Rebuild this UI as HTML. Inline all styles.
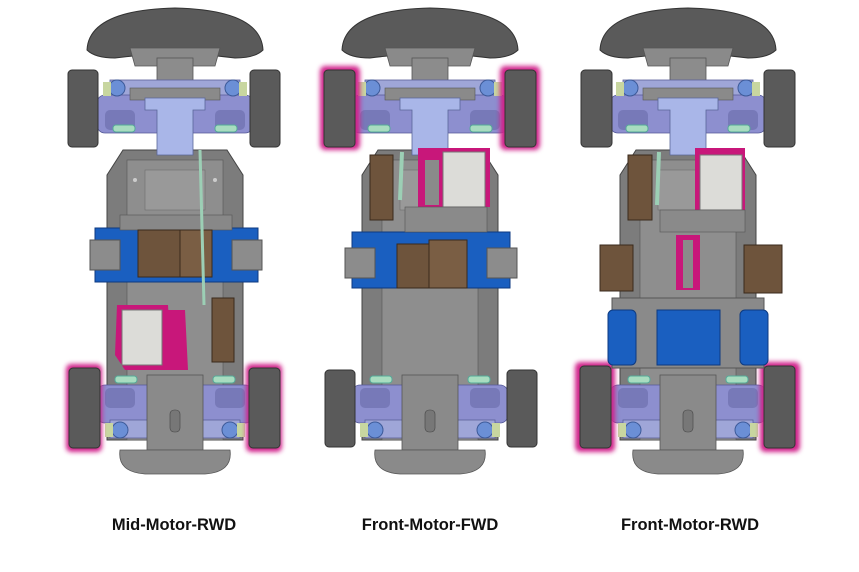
<!DOCTYPE html>
<html><head><meta charset="utf-8"><style>
html,body{margin:0;padding:0;background:#fff;}
svg{display:block;}
text{font-family:"Liberation Sans",Arial,sans-serif;font-weight:bold;font-size:16.5px;fill:#111;}
</style></head><body>
<svg width="859" height="572" viewBox="0 0 859 572" xmlns="http://www.w3.org/2000/svg">
<defs>
<filter id="glow" x="-40%" y="-20%" width="180%" height="140%"><feGaussianBlur stdDeviation="2.5"/></filter>
<g id="car">
  <!-- front wing -->
  <path d="M-88,50 Q-86,10 0,8 Q86,10 88,50 Q80,58 60,58 Q0,50 -60,58 Q-80,58 -88,50Z" fill="#5a5a5a" stroke="#333" stroke-width="1"/>
  <path d="M-45,48 L45,48 L40,66 L-40,66Z" fill="#8a8a8a" stroke="#555" stroke-width="0.8"/>
  <!-- chassis spine -->
  <rect x="-18" y="58" width="36" height="30" fill="#8c8c8c" stroke="#555" stroke-width="0.8"/>
  <path d="M-52,150 L52,150 L68,175 L68,440 L-68,440 L-68,175Z" fill="#7c7c7c" stroke="#444" stroke-width="1"/>
  <rect x="-48" y="160" width="96" height="280" fill="#8e8e8e" stroke="#555" stroke-width="0.6"/>
  <rect x="-30" y="170" width="60" height="40" fill="#999" stroke="#666" stroke-width="0.5"/>
  <circle cx="-40" cy="180" r="2" fill="#ccc"/><circle cx="40" cy="180" r="2" fill="#ccc"/>
  <circle cx="-40" cy="400" r="2" fill="#ccc"/><circle cx="40" cy="400" r="2" fill="#ccc"/>
  <!-- front suspension -->
  <rect x="-65" y="80" width="130" height="18" fill="#9fa6d8" stroke="#5a5f99" stroke-width="0.8"/>
  <rect x="-78" y="95" width="156" height="38" rx="8" fill="#8d8fcf" stroke="#555a99" stroke-width="0.8"/>
  <rect x="-70" y="110" width="30" height="20" rx="5" fill="#7779b8"/><rect x="40" y="110" width="30" height="20" rx="5" fill="#7779b8"/>
  <circle cx="-58" cy="88" r="8" fill="#6b8fd6" stroke="#3d5a99"/><circle cx="58" cy="88" r="8" fill="#6b8fd6" stroke="#3d5a99"/>
  <rect x="-72" y="82" width="8" height="14" fill="#c8d6a0"/><rect x="64" y="82" width="8" height="14" fill="#c8d6a0"/>
  <rect x="-45" y="88" width="90" height="12" fill="#8a8a8a" stroke="#555" stroke-width="0.6"/>
  <path d="M-30,98 L30,98 L30,110 L18,110 L18,155 L-18,155 L-18,110 L-30,110Z" fill="#a9b6e8" stroke="#5a6699" stroke-width="0.8"/>
  <rect x="-62" y="125" width="22" height="7" rx="3" fill="#a8dcc0" stroke="#5a9"/><rect x="40" y="125" width="22" height="7" rx="3" fill="#a8dcc0" stroke="#5a9"/>
  <!-- rear suspension -->
  <rect x="-78" y="385" width="156" height="38" rx="8" fill="#8d8fcf" stroke="#555a99" stroke-width="0.8"/>
  <rect x="-70" y="388" width="30" height="20" rx="5" fill="#7779b8"/><rect x="40" y="388" width="30" height="20" rx="5" fill="#7779b8"/>
  <rect x="-65" y="420" width="130" height="18" fill="#9fa6d8" stroke="#5a5f99" stroke-width="0.8"/>
  <circle cx="-55" cy="430" r="8" fill="#6b8fd6" stroke="#3d5a99"/><circle cx="55" cy="430" r="8" fill="#6b8fd6" stroke="#3d5a99"/>
  <rect x="-70" y="423" width="8" height="14" fill="#c8d6a0"/><rect x="62" y="423" width="8" height="14" fill="#c8d6a0"/>
  <rect x="-60" y="376" width="22" height="7" rx="3" fill="#a8dcc0" stroke="#5a9"/><rect x="38" y="376" width="22" height="7" rx="3" fill="#a8dcc0" stroke="#5a9"/>
  <rect x="-28" y="375" width="56" height="75" fill="#8a8a8a" stroke="#555" stroke-width="0.8"/>
  <rect x="-5" y="410" width="10" height="22" rx="4" fill="#777" stroke="#444" stroke-width="0.6"/>
  <!-- rear bumper -->
  <path d="M-55,450 L55,450 Q58,472 30,474 L-30,474 Q-58,472 -55,450Z" fill="#8a8a8a" stroke="#555" stroke-width="0.8"/>
</g>
</defs>

<!-- Car 1 -->
<use href="#car" x="175" y="0"/>
<rect x="66" y="364" width="36" height="88" rx="5" fill="#d0208a" filter="url(#glow)"/>
<rect x="246" y="364" width="36" height="88" rx="5" fill="#d0208a" filter="url(#glow)"/>
<rect x="68" y="70" width="30" height="77" rx="4" fill="#5a5a5a" stroke="#333"/>
<rect x="250" y="70" width="30" height="77" rx="4" fill="#5a5a5a" stroke="#333"/>
<rect x="69" y="368" width="31" height="80" rx="4" fill="#5a5a5a" stroke="#333"/>
<rect x="249" y="368" width="31" height="80" rx="4" fill="#5a5a5a" stroke="#333"/>
<rect x="95" y="228" width="163" height="54" fill="#1a5fc0" stroke="#0d3a80"/>
<rect x="90" y="240" width="30" height="30" fill="#8c8c8c" stroke="#555"/>
<rect x="232" y="240" width="30" height="30" fill="#8c8c8c" stroke="#555"/>
<rect x="120" y="215" width="112" height="15" fill="#888" stroke="#555" stroke-width="0.6"/>
<rect x="138" y="230" width="42" height="47" fill="#6e543c" stroke="#3a2a1c"/>
<rect x="180" y="230" width="32" height="47" fill="#7a5e44" stroke="#3a2a1c"/>
<path d="M117,305 L168,305 L172,370 L125,370 L115,355Z" fill="#c8177a"/>
<rect x="122" y="310" width="40" height="55" fill="#dcdcd8" stroke="#777"/>
<path d="M165,310 L185,310 L188,370 L165,370Z" fill="#c8177a"/>
<rect x="212" y="298" width="22" height="64" fill="#6e543c" stroke="#3a2a1c"/>
<line x1="200" y1="150" x2="204" y2="305" stroke="#9ccfb5" stroke-width="3"/>

<!-- Car 2 -->
<use href="#car" x="430" y="0"/>
<rect x="320" y="66" width="40" height="84" rx="5" fill="#d0208a" filter="url(#glow)"/>
<rect x="500" y="66" width="40" height="84" rx="5" fill="#d0208a" filter="url(#glow)"/>
<rect x="324" y="70" width="31" height="77" rx="4" fill="#5a5a5a" stroke="#333"/>
<rect x="505" y="70" width="31" height="77" rx="4" fill="#5a5a5a" stroke="#333"/>
<rect x="325" y="370" width="30" height="77" rx="4" fill="#5a5a5a" stroke="#333"/>
<rect x="507" y="370" width="30" height="77" rx="4" fill="#5a5a5a" stroke="#333"/>
<rect x="352" y="232" width="158" height="56" fill="#1a5fc0" stroke="#0d3a80"/>
<rect x="345" y="248" width="30" height="30" fill="#8c8c8c" stroke="#555"/>
<rect x="487" y="248" width="30" height="30" fill="#8c8c8c" stroke="#555"/>
<rect x="397" y="244" width="32" height="44" fill="#6e543c" stroke="#3a2a1c"/>
<rect x="429" y="240" width="38" height="48" fill="#7a5e44" stroke="#3a2a1c"/>
<path d="M418,148 L490,148 L490,207 L418,207Z" fill="#c8177a"/>
<rect x="443" y="152" width="42" height="55" fill="#dcdcd8" stroke="#777"/>
<rect x="425" y="160" width="14" height="45" fill="#8a8a8a"/>
<rect x="405" y="207" width="82" height="25" fill="#8a8a8a" stroke="#555" stroke-width="0.6"/>
<rect x="370" y="155" width="23" height="65" fill="#6e543c" stroke="#3a2a1c"/>
<line x1="402" y1="152" x2="400" y2="200" stroke="#9ccfb5" stroke-width="4"/>

<!-- Car 3 -->
<use href="#car" x="688" y="0"/>
<rect x="575" y="362" width="40" height="90" rx="5" fill="#d0208a" filter="url(#glow)"/>
<rect x="760" y="362" width="40" height="90" rx="5" fill="#d0208a" filter="url(#glow)"/>
<rect x="581" y="70" width="31" height="77" rx="4" fill="#5a5a5a" stroke="#333"/>
<rect x="764" y="70" width="31" height="77" rx="4" fill="#5a5a5a" stroke="#333"/>
<rect x="580" y="366" width="31" height="82" rx="4" fill="#5a5a5a" stroke="#333"/>
<rect x="764" y="366" width="31" height="82" rx="4" fill="#5a5a5a" stroke="#333"/>
<rect x="612" y="298" width="152" height="70" fill="#8a8a8a" stroke="#555"/>
<rect x="608" y="310" width="28" height="55" rx="5" fill="#1a5fc0" stroke="#0d3a80"/>
<rect x="740" y="310" width="28" height="55" rx="5" fill="#1a5fc0" stroke="#0d3a80"/>
<rect x="657" y="310" width="63" height="55" fill="#1a5fc0" stroke="#0d3a80"/>
<rect x="600" y="245" width="33" height="46" fill="#6e543c" stroke="#3a2a1c"/>
<rect x="744" y="245" width="38" height="48" fill="#6e543c" stroke="#3a2a1c"/>
<path d="M676,235 L700,235 L700,290 L676,290Z" fill="#c8177a"/>
<rect x="683" y="240" width="10" height="48" fill="#8a8a8a"/>
<path d="M695,148 L745,148 L745,210 L695,210Z" fill="#c8177a"/>
<rect x="700" y="155" width="42" height="55" fill="#dcdcd8" stroke="#777"/>
<rect x="660" y="210" width="85" height="22" fill="#8a8a8a" stroke="#555" stroke-width="0.6"/>
<rect x="628" y="155" width="24" height="65" fill="#6e543c" stroke="#3a2a1c"/>
<line x1="659" y1="152" x2="657" y2="205" stroke="#9ccfb5" stroke-width="4"/>

<text x="174" y="530" text-anchor="middle">Mid-Motor-RWD</text>
<text x="430" y="530" text-anchor="middle">Front-Motor-FWD</text>
<text x="690" y="530" text-anchor="middle">Front-Motor-RWD</text>
</svg>
</body></html>
